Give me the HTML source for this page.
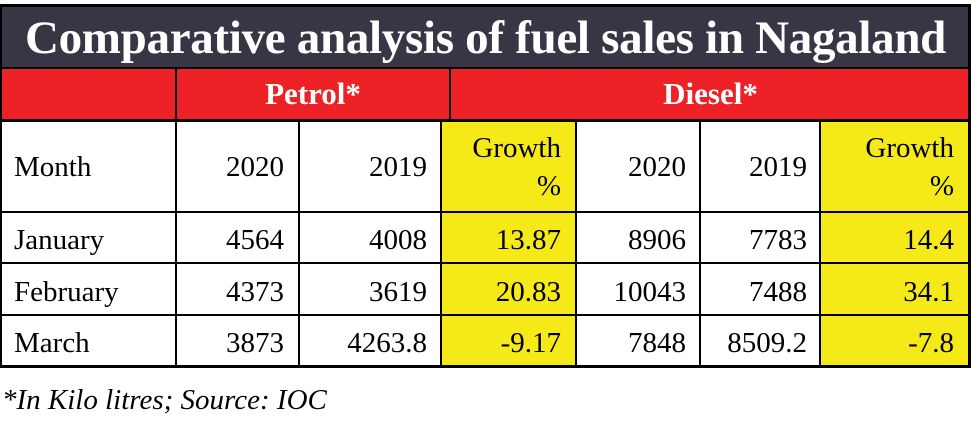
<!DOCTYPE html>
<html><head><style>
body{margin:0;width:972px;height:441px;background:#fff;position:relative;overflow:hidden;font-family:"Liberation Serif","Times New Roman","Noto Serif CJK SC",serif}
div{position:absolute;box-sizing:border-box}
.t{font-size:29px;color:#000;line-height:1;font-family:"Liberation Serif","Times New Roman","Noto Serif CJK SC",serif}
.r{text-align:right}
.y{background:#f5e918}
.v{background:#000}
.h{background:#000}
</style></head><body>
<div style="left:0;top:5px;width:971px;height:64px;background:#383645"></div>
<div style="left:0;top:6px;width:971px;text-align:center;color:#fff;font-weight:bold;font-size:47px;line-height:64px;letter-spacing:-0.3px">Comparative analysis of fuel sales in Nagaland</div>
<div style="left:0;top:68px;width:971px;height:52px;background:#ec2227"></div>
<div style="left:176px;top:68px;width:274px;text-align:center;color:#fff;font-weight:bold;font-size:31px;line-height:52px">Petrol*</div>
<div style="left:450px;top:68px;width:521px;text-align:center;color:#fff;font-weight:bold;font-size:31px;line-height:52px">Diesel*</div>
<div class="y" style="left:441px;top:120px;width:135px;height:246px"></div>
<div class="y" style="left:820px;top:120px;width:149px;height:246px"></div>
<div class="h" style="left:0;top:4px;width:971px;height:3px"></div>
<div class="h" style="left:0;top:67px;width:971px;height:2px"></div>
<div class="h" style="left:0;top:119px;width:971px;height:3px"></div>
<div class="h" style="left:0;top:211px;width:971px;height:2px"></div>
<div class="h" style="left:0;top:262px;width:971px;height:2px"></div>
<div class="h" style="left:0;top:314px;width:971px;height:2px"></div>
<div class="h" style="left:0;top:365px;width:971px;height:3px"></div>
<div class="v" style="left:0;top:4px;width:2px;height:364px"></div>
<div class="v" style="left:968px;top:4px;width:3px;height:364px"></div>
<div class="v" style="left:175px;top:68px;width:2px;height:300px"></div>
<div class="v" style="left:449px;top:68px;width:2px;height:52px"></div>
<div class="v" style="left:298px;top:120px;width:2px;height:248px"></div>
<div class="v" style="left:440px;top:120px;width:2px;height:248px"></div>
<div class="v" style="left:575px;top:120px;width:2px;height:248px"></div>
<div class="v" style="left:699px;top:120px;width:2px;height:248px"></div>
<div class="v" style="left:819px;top:120px;width:2px;height:248px"></div>
<div class="t" style="left:14px;top:153px">Month</div>
<div class="t r" style="left:176px;width:108px;top:153px">2020</div>
<div class="t r" style="left:299px;width:128px;top:153px">2019</div>
<div class="t r" style="left:441px;width:120px;top:134px">Growth</div>
<div class="t r" style="left:441px;width:120px;top:172px">%</div>
<div class="t r" style="left:576px;width:110px;top:153px">2020</div>
<div class="t r" style="left:700px;width:107px;top:153px">2019</div>
<div class="t r" style="left:820px;width:134px;top:134px">Growth</div>
<div class="t r" style="left:820px;width:134px;top:172px">%</div>
<div class="t" style="left:14px;top:226px">January</div>
<div class="t r" style="left:176px;width:108px;top:226px">4564</div>
<div class="t r" style="left:299px;width:128px;top:226px">4008</div>
<div class="t r" style="left:441px;width:120px;top:226px">13.87</div>
<div class="t r" style="left:576px;width:110px;top:226px">8906</div>
<div class="t r" style="left:700px;width:107px;top:226px">7783</div>
<div class="t r" style="left:820px;width:134px;top:226px">14.4</div>
<div class="t" style="left:14px;top:278px">February</div>
<div class="t r" style="left:176px;width:108px;top:278px">4373</div>
<div class="t r" style="left:299px;width:128px;top:278px">3619</div>
<div class="t r" style="left:441px;width:120px;top:278px">20.83</div>
<div class="t r" style="left:576px;width:110px;top:278px">10043</div>
<div class="t r" style="left:700px;width:107px;top:278px">7488</div>
<div class="t r" style="left:820px;width:134px;top:278px">34.1</div>
<div class="t" style="left:14px;top:329px">March</div>
<div class="t r" style="left:176px;width:108px;top:329px">3873</div>
<div class="t r" style="left:299px;width:128px;top:329px">4263.8</div>
<div class="t r" style="left:441px;width:120px;top:329px">-9.17</div>
<div class="t r" style="left:576px;width:110px;top:329px">7848</div>
<div class="t r" style="left:700px;width:107px;top:329px">8509.2</div>
<div class="t r" style="left:820px;width:134px;top:329px">-7.8</div>
<div class="t" style="left:2px;top:386px;font-style:italic;font-size:29px">*In Kilo litres; Source: IOC</div>
</body></html>
